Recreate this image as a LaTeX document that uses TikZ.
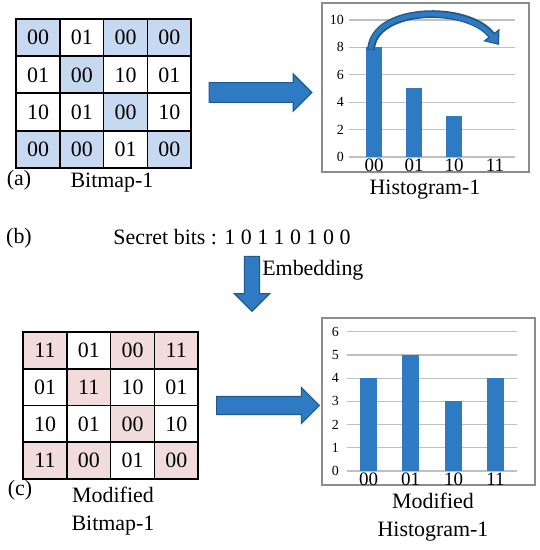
\documentclass[tikz,border=0pt]{standalone}
\usepackage{fontspec}
\setmainfont{Liberation Serif}
\usetikzlibrary{shapes.arrows,arrows.meta}

\definecolor{cellblue}{HTML}{C6D9F1}
\definecolor{cellpink}{HTML}{F2DCDB}
\definecolor{barblue}{HTML}{2E7BC4}
\definecolor{arrowline}{HTML}{1F5A8C}
\definecolor{gridgray}{HTML}{C0C0C0}
\definecolor{framegray}{HTML}{8C8C8C}

\tikzset{
  cell/.style={draw=black, line width=1.1pt, minimum width=31.2pt, minimum height=26.2pt,
    inner sep=0pt, font=\fontsize{15.6}{18}\selectfont},
  lbl/.style={inner sep=0pt, font=\fontsize{15.6}{20}\selectfont},
  ticklbl/.style={inner sep=0pt, anchor=east, font=\fontsize{9.9}{11}\selectfont},
  catlbl/.style={inner sep=0pt, font=\fontsize{13.5}{15}\selectfont},
  blockarrow/.style={single arrow, draw=arrowline, fill=barblue, line width=0.8pt,
    inner xsep=0pt, single arrow tip angle=90},
  gridline/.style={draw=gridgray, line width=0.8pt},
  chartframe/.style={draw=framegray, line width=0.9pt}
}

\begin{document}
\begin{tikzpicture}[x=0.025cm, y=-0.025cm]
\useasboundingbox (0,0) rectangle (539,550);

% (a) original bitmap
\foreach \v/\f [count=\i from 0] in {00/1,01/0,00/1,00/1, 01/0,00/1,10/0,01/0,
    10/0,01/0,00/1,10/0, 00/1,00/1,01/0,00/1}{
  \pgfmathtruncatemacro{\c}{mod(\i,4)}
  \pgfmathtruncatemacro{\r}{div(\i,4)}
  \ifnum\f=1 \def\fc{cellblue}\else\def\fc{white}\fi
  \node[cell, fill=\fc] (a\r\c) at ({38+43.75*\c},{37.6+37.25*\r}) {\v};
}
\node[lbl] (tagA) at (19,180) {(a)};
\node[lbl] (bmpA) at (112,183) {Bitmap-1};

\node[blockarrow, minimum height=73pt, inner ysep=6.6pt, single arrow head extend=6.2pt]
  (arrA) at (255.5,92.5) {};

% histogram 1
\draw[chartframe] (322,3) rectangle (529,172);
\foreach \k/\lab in {0/0,1/2,2/4,3/6,4/8,5/10}{
  \draw[gridline] (349,{157-27.4*\k}) -- (515,{157-27.4*\k});
  \node[ticklbl] (tickA\k) at (344,{157-27.4*\k}) {\lab};
}
\foreach \x/\h in {374/8,414/5,454/3}
  \fill[barblue] (\x-8,157) rectangle (\x+8,{157-13.7*\h});
\foreach \x/\lab in {374/00,414/01,454/10,495/11}
  \node[catlbl] (catA\lab) at (\x,165) {\lab};
\node[lbl] (histA) at (425,190) {Histogram-1};

\draw[arrowline, line width=5.5pt, -{Triangle[width=14pt,length=9pt]}]
  (371,50) .. controls (373,6) and (468,4) .. (499,45);
\draw[barblue, line width=3.2pt, -{Triangle[width=10pt,length=6.5pt]}]
  (371,49) .. controls (373,6) and (468,4) .. (497.5,43.5);

% (b) secret bits
\node[lbl] (tagB) at (19,238) {(b)};
\node[lbl] (secret) at (232,237) {Secret bits : 1 0 1 1 0 1 0 0};
\node[blockarrow, rotate=-90, minimum height=39pt, inner ysep=5pt, single arrow head extend=7pt]
  (arrB) at (252,280) {};
\node[lbl, anchor=west] (embed) at (262,270) {Embedding};

% (c) modified bitmap
\foreach \v/\f [count=\i from 0] in {11/1,01/0,00/1,11/1, 01/0,11/1,10/0,01/0,
    10/0,01/0,00/1,10/0, 11/1,00/1,01/0,00/1}{
  \pgfmathtruncatemacro{\c}{mod(\i,4)}
  \pgfmathtruncatemacro{\r}{div(\i,4)}
  \ifnum\f=1 \def\fc{cellpink}\else\def\fc{white}\fi
  \node[cell, fill=\fc] (c\r\c) at ({45+43.75*\c},{350.4+36.75*\r}) {\v};
}
\node[lbl] (tagC) at (20,490) {(c)};
\node[lbl, align=center] (bmpC) at (113,511) {Modified\\Bitmap-1};

\node[blockarrow, minimum height=73pt, inner ysep=6pt, single arrow head extend=6.4pt]
  (arrC) at (263.5,405.5) {};

% modified histogram
\draw[chartframe] (322,318) rectangle (535,485);
\foreach \k in {0,...,6}{
  \draw[gridline] (347,{471-23.2*\k}) -- (517,{471-23.2*\k});
  \node[ticklbl] (tickC\k) at (339,{471-23.2*\k}) {\k};
}
\foreach \x/\h in {368.5/4,410.5/5,453.5/3,495.5/4}
  \fill[barblue] (\x-8.5,471) rectangle (\x+8.5,{471-23.2*\h});
\foreach \x/\lab in {368.5/00,410.5/01,453.5/10,495.5/11}
  \node[catlbl] (catC\lab) at (\x,479) {\lab};
\node[lbl, align=center] (histC) at (433,517.5) {Modified\\Histogram-1};
\end{tikzpicture}
\end{document}
